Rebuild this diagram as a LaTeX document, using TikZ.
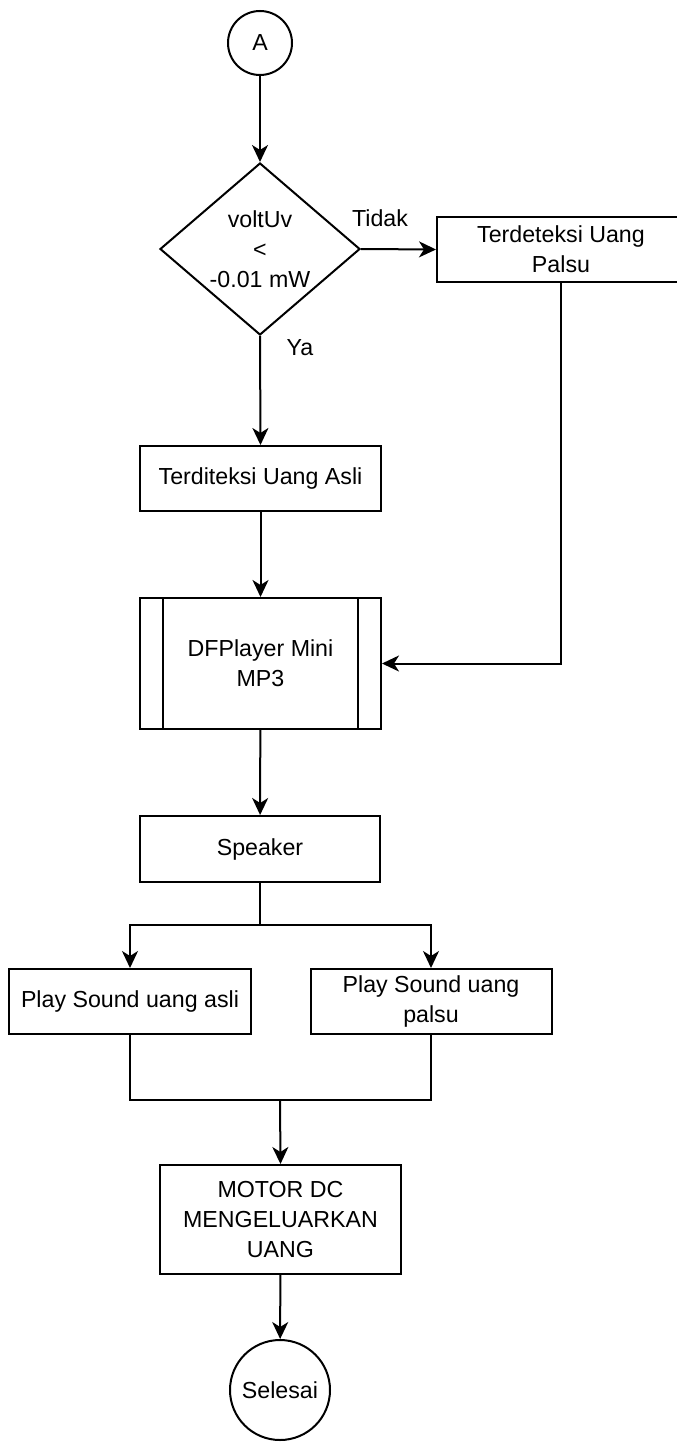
\documentclass[tikz,border=0pt]{standalone}
\usepackage{fontspec}
\setmainfont{Liberation Sans}
\usetikzlibrary{arrows.meta,shapes.geometric}

\begin{document}
\begin{tikzpicture}[x=0.5pt, y=-0.5pt, line width=1pt,
    font=\fontsize{11.6}{15}\selectfont,
    box/.style={draw, rectangle, align=center, minimum width=120.5pt, minimum height=32.5pt, inner sep=2pt},
    bulat/.style={draw, circle, inner sep=0pt},
    cabang/.style={draw, diamond, align=center, minimum width=100pt, minimum height=86pt, inner sep=-3pt},
    panah/.style={-{Stealth[length=8.5pt, width=8pt, inset=2.5pt]}}]
    \useasboundingbox (0,0) rectangle (676,1445);
    % simbol alur
    \node[bulat, minimum size=32pt] (A) at (260,43) {A};
    \node[cabang] (cek) at (260,249) {voltUv\\<\\-0.01 mW};
    \node[box, minimum width=124pt] (palsu) at (561,249.5) {Terdeteksi Uang\\Palsu};
    \node[box] (asli) at (260.5,478.5) {Terditeksi Uang Asli};
    \node[box, minimum height=65.5pt] (dfp) at (260.5,663.5) {DFPlayer Mini\\MP3};
    \draw 
    ([xshift=12pt]dfp.north west) -- ([xshift=12pt]dfp.south west)
    ([xshift=-12pt]dfp.north east) -- ([xshift=-12pt]dfp.south east);
    \node[box, minimum width=120pt, minimum height=33pt] (spk) at (260,849) {Speaker};
    \node[box, minimum width=121pt] (pasli) at (130,1001.5) {Play Sound uang asli};
    \node[box] (ppalsu) at (431,1001.5) {Play Sound uang\\palsu};
    \node[box, minimum height=54.5pt] (motor) at (280.5,1219.5) {MOTOR DC\\MENGELUARKAN\\UANG};
    \node[bulat, minimum size=50pt] (selesai) at (280,1390) {Selesai};
    \node (tidak) at (380,218) {Tidak};
    \node (ya) at (300,348) {Ya};
    \coordinate (pisah) at (260,925);
    \coordinate (gabung) at (280,1100);
    % garis alur
    \draw[panah] (A) -- (cek);
    \draw[panah] (cek.east) -- (palsu.west);
    \draw[panah] (cek.south) -- (asli.north);
    \draw[panah] (asli) -- (dfp);
    \draw[panah] (palsu.south) |- (dfp.east);
    \draw[panah] (dfp) -- (spk);
    \draw (spk.south) -- (pisah);
    \draw[panah] (pisah) -| (pasli.north);
    \draw[panah] (pisah) -| (ppalsu.north);
    \draw (pasli.south) |- (gabung) -| (ppalsu.south);
    \draw[panah] (gabung) -- (motor.north);
    \draw[panah] (motor) -- (selesai);
\end{tikzpicture}
\end{document}
